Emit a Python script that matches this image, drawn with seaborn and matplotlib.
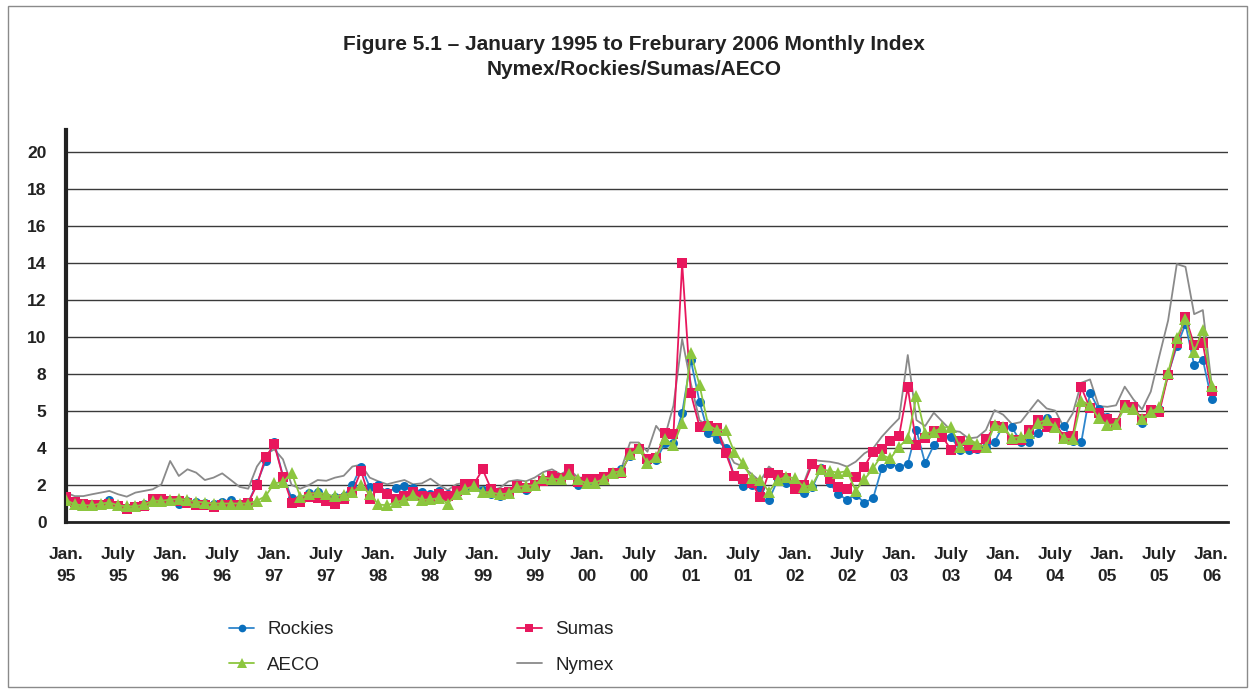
import pandas as pd
import seaborn as sns
import matplotlib.pyplot as plt
from matplotlib.patches import Rectangle

# monthly index, Jan 1995 .. Jan 2006
rockies = [
    1.30, 1.10, 0.95, 0.95, 1.00, 1.20, 0.90, 0.75, 0.85, 0.95, 1.10, 1.20,
    1.20, 1.00, 1.15, 1.10, 1.05, 1.00, 1.10, 1.20, 1.00, 1.05, 2.10, 3.30,
    4.30, 2.50, 1.30, 1.25, 1.55, 1.60, 1.37, 1.33, 1.41, 2.00, 3.00, 1.90,
    2.00, 1.60, 1.85, 1.95, 1.85, 1.60, 1.50, 1.68, 1.50, 1.68, 1.85, 2.00,
    1.73, 1.50, 1.40, 1.60, 2.00, 1.73, 1.95, 2.20, 2.45, 2.40, 2.85, 2.00,
    2.13, 2.16, 2.40, 2.67, 2.85, 3.57, 3.93, 3.30, 3.35, 4.25, 4.29, 5.90,
    8.76, 6.50, 4.83, 4.47, 3.98, 2.49, 1.95, 2.00, 1.85, 1.19, 2.27, 2.13,
    2.09, 1.59, 1.87, 2.90, 2.09, 1.51, 1.19, 1.46, 1.05, 1.28, 2.90, 3.14,
    2.97, 3.15, 4.97, 3.17, 4.15, 4.70, 4.60, 3.88, 3.92, 3.97, 4.04, 4.34,
    5.20, 5.12, 4.34, 4.34, 4.83, 5.60, 5.24, 5.19, 4.40, 4.34, 6.99, 6.10,
    5.70, 5.30, 6.30, 6.30, 5.33, 6.09, 6.10, 8.00, 9.50, 10.70, 8.49, 8.78,
    6.63]

sumas = [
    1.37, 1.08, 1.00, 0.92, 0.92, 1.00, 0.86, 0.68, 0.81, 0.86, 1.22, 1.26,
    1.13, 1.13, 1.04, 0.92, 0.92, 0.83, 0.94, 0.94, 0.92, 1.04, 2.00, 3.50,
    4.20, 2.45, 1.05, 1.10, 1.37, 1.28, 1.15, 1.00, 1.22, 1.60, 2.77, 1.24,
    1.85, 1.50, 1.25, 1.40, 1.60, 1.40, 1.37, 1.50, 1.40, 1.68, 2.04, 2.04,
    2.85, 1.77, 1.55, 1.60, 1.95, 1.85, 2.00, 2.20, 2.49, 2.40, 2.88, 2.16,
    2.30, 2.30, 2.45, 2.63, 2.67, 3.71, 3.93, 3.39, 3.44, 4.83, 4.76, 14.00,
    6.95, 5.15, 5.20, 5.06, 3.75, 2.49, 2.31, 2.13, 1.33, 2.67, 2.54, 2.36,
    1.77, 2.00, 3.14, 2.80, 2.30, 1.90, 1.77, 2.45, 3.00, 3.80, 3.93, 4.40,
    4.65, 7.28, 4.16, 4.55, 4.90, 4.60, 3.90, 4.39, 4.10, 4.00, 4.47, 5.17,
    5.14, 4.42, 4.42, 4.96, 5.51, 5.15, 5.33, 4.61, 4.65, 7.28, 6.14, 5.90,
    5.55, 5.37, 6.32, 6.23, 5.55, 6.05, 5.96, 7.95, 9.70, 11.10, 9.57, 9.66,
    7.08]

aeco = [
    1.20, 0.95, 0.90, 0.90, 1.00, 1.05, 0.90, 0.85, 0.85, 0.95, 1.15, 1.15,
    1.20, 1.25, 1.20, 1.10, 1.05, 1.00, 1.00, 1.00, 1.00, 1.00, 1.15, 1.40,
    2.10, 2.15, 2.65, 1.37, 1.50, 1.60, 1.50, 1.38, 1.47, 1.60, 1.98, 1.52,
    0.95, 0.90, 1.07, 1.20, 1.48, 1.20, 1.22, 1.30, 1.00, 1.50, 1.77, 1.95,
    1.62, 1.60, 1.50, 1.55, 1.90, 1.95, 2.00, 2.40, 2.34, 2.30, 2.58, 2.30,
    2.09, 2.13, 2.34, 2.67, 2.76, 3.66, 3.98, 3.17, 3.50, 4.47, 4.16, 5.37,
    9.15, 7.40, 5.24, 4.97, 4.97, 3.80, 3.17, 2.36, 2.27, 1.64, 2.27, 2.45,
    2.36, 1.90, 2.00, 2.87, 2.75, 2.67, 2.75, 1.70, 2.30, 2.90, 3.62, 3.44,
    4.07, 4.52, 6.80, 4.79, 4.88, 5.12, 5.12, 4.07, 4.50, 4.23, 4.05, 5.24,
    5.12, 4.55, 4.58, 4.79, 5.37, 5.51, 5.15, 4.52, 4.47, 6.56, 6.32, 5.60,
    5.24, 5.30, 6.20, 6.09, 5.55, 5.96, 6.20, 8.07, 9.95, 11.00, 9.20, 10.40,
    7.38]

nymex = [
    1.59, 1.40, 1.40, 1.50, 1.59, 1.68, 1.50, 1.37, 1.59, 1.68, 1.77, 2.04,
    3.30, 2.49, 2.85, 2.67, 2.27, 2.40, 2.63, 2.27, 1.90, 1.80, 3.00, 3.66,
    3.93, 3.39, 2.00, 1.80, 2.00, 2.27, 2.23, 2.40, 2.50, 3.00, 3.10, 2.40,
    2.20, 2.04, 2.16, 2.27, 2.04, 2.09, 2.34, 2.00, 1.73, 2.04, 2.13, 2.04,
    1.85, 1.68, 1.85, 2.20, 2.27, 2.20, 2.40, 2.70, 2.85, 2.58, 2.85, 2.40,
    2.40, 2.45, 2.50, 2.70, 2.90, 4.30, 4.30, 3.80, 5.20, 4.60, 6.30, 9.90,
    7.50, 5.50, 5.20, 5.00, 4.00, 3.20, 3.00, 2.60, 2.20, 3.00, 2.60, 2.30,
    2.10, 2.10, 3.35, 3.30, 3.26, 3.17, 2.99, 3.26, 3.71, 3.98, 4.61, 5.12,
    5.60, 9.03, 5.51, 5.19, 5.91, 5.42, 4.94, 4.88, 4.52, 4.58, 4.97, 6.05,
    5.80, 5.30, 5.40, 6.00, 6.60, 6.14, 6.02, 5.10, 5.87, 7.53, 7.71, 6.27,
    6.23, 6.31, 7.32, 6.63, 6.09, 7.05, 9.00, 10.90, 13.95, 13.80, 11.24, 11.46,
    7.50]

years = ["95", "96", "97", "98", "99", "00", "01", "02", "03", "04", "05", "06"]
x_labels = [f"{m}\n{y}" for y in years for m in ("Jan.", "July")][:23]
y_ticks = [0, 2, 4, 6, 8, 10, 12, 14, 16, 18, 20]
y_labels = ["0", "2", "4", "5", "8", "10", "12", "14", "16", "18", "20"]

months = list(range(len(rockies)))
df = pd.DataFrame({"month": months, "Rockies": rockies, "Sumas": sumas,
                   "AECO": aeco, "Nymex": nymex})

sns.set_style("white")
plt.rcParams["font.family"] = ["Liberation Sans", "DejaVu Sans"]

fig = plt.figure(figsize=(12.54, 6.93), dpi=100)
ax = fig.add_axes([66 / 1254, 1 - 522 / 693, (1228 - 66) / 1254, (522 - 130) / 693])

sns.lineplot(data=df, x="month", y="Nymex", ax=ax, color="#8a8a8a", lw=1.3,
             label="Nymex", zorder=2)
sns.lineplot(data=df, x="month", y="Rockies", ax=ax, color="#2f86cc", lw=1.3,
             marker="o", markersize=6.5, markerfacecolor="#0a6fbd",
             markeredgewidth=0, label="Rockies", zorder=3)
sns.lineplot(data=df, x="month", y="Sumas", ax=ax, color="#e8175d", lw=1.3,
             marker="s", markersize=6.5, markeredgewidth=0, label="Sumas", zorder=4)
sns.lineplot(data=df, x="month", y="AECO", ax=ax, color="#8cc63f", lw=1.3,
             marker="^", markersize=8.5, markeredgewidth=0, label="AECO", zorder=5)

ax.set_xlim(0, 133.9)
ax.set_ylim(0, 21.2)
ax.set_xticks(range(0, 133, 6))
ax.set_xticklabels(x_labels, fontsize=12.5, fontweight="bold", linespacing=1.55)
ax.set_yticks(y_ticks)
ax.set_yticklabels(y_labels, fontsize=12.5, fontweight="bold")
ax.set_xlabel("")
ax.set_ylabel("")

ax.yaxis.grid(True, color="#3a3a3a", lw=1)
ax.xaxis.grid(False)
ax.tick_params(axis="y", direction="out", length=8, width=1, color="#3a3a3a", pad=6,
               labelcolor="#222222")
ax.tick_params(axis="x", direction="inout", length=14, width=1.6, color="#222222", pad=11,
               labelcolor="#222222")
for side in ("top", "right"):
    ax.spines[side].set_visible(False)
ax.spines["left"].set_linewidth(3)
ax.spines["left"].set_color("#222222")
ax.spines["bottom"].set_linewidth(2)
ax.spines["bottom"].set_color("#222222")
ax.set_axisbelow(True)

# legend: Rockies/AECO in first column, Sumas/Nymex in second
ax.get_legend().remove()
h, l = ax.get_legend_handles_labels()
order = [l.index(n) for n in ("Rockies", "AECO", "Sumas", "Nymex")]
leg = fig.legend([h[i] for i in order], [l[i] for i in order], ncol=2,
                 loc="upper left", bbox_to_anchor=(229 / 1254, 1 - 621 / 693),
                 frameon=False, fontsize=13.5, handlelength=1.35, handletextpad=0.7,
                 columnspacing=9.75, labelspacing=1.0, borderpad=0, borderaxespad=0,
                 markerscale=0.85)
for t in leg.get_texts():
    t.set_color("#222222")

fig.suptitle("Figure 5.1 – January 1995 to Freburary 2006 Monthly Index\n"
             "Nymex/Rockies/Sumas/AECO", x=634 / 1254, y=1 - 35 / 693, va="top",
             fontsize=15, fontweight="bold", linespacing=1.42, color="#222222")

fig.patches.append(Rectangle((8 / 1254, 6 / 693), 1239 / 1254, 681 / 693,
                             transform=fig.transFigure, fill=False,
                             edgecolor="#8a8a8a", lw=1))

fig.savefig("out.png", dpi=100)
